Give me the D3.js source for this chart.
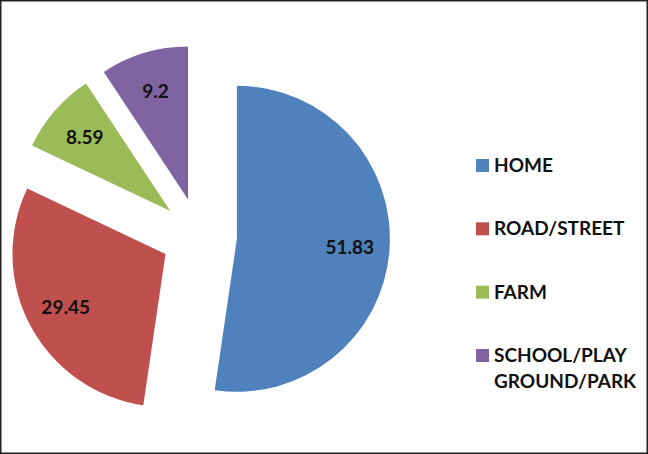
<!DOCTYPE html>
<html lang="en">
  <head>
    <meta charset="UTF-8" />
    <title>Place of injury</title>
    <script src="https://d3js.org/d3.v7.min.js"></script>
    <style>
      html, body {
        margin: 0;
        padding: 0;
        background: #fff;
      }
      body {
        font-family: Lato, "Open Sans", Arial, sans-serif;
      }
      .slice-label {
        font-size: 19px;
        font-weight: 700;
        fill: #111;
      }
      .legend text {
        font-size: 19px;
        font-weight: 700;
        fill: #111;
      }
    </style>
  </head>
  <body>
    <svg id="chart" width="648" height="454"></svg>

    <script>
      // data
      const categories = ["HOME", "ROAD/STREET", "FARM", "SCHOOL/PLAY GROUND/PARK"];
      const legendLines = [["HOME"], ["ROAD/STREET"], ["FARM"], ["SCHOOL/PLAY", "GROUND/PARK"]];
      const values = [51.83, 29.45, 8.59, 9.2];
      const colors = ["#4F81BD", "#C0504D", "#9BBB59", "#8064A2"];

      const width = 648;
      const height = 454;
      const svg = d3.select("#chart");

      // frame round the picture
      svg
        .append("rect")
        .attr("x", 0.75)
        .attr("y", 0.75)
        .attr("width", width - 1.5)
        .attr("height", height - 1.5)
        .attr("fill", "#fff")
        .attr("stroke", "#222")
        .attr("stroke-width", 1.5);

      const radius = 153;
      const explode = 38;
      const cx = 199;
      const cy = 236;

      const color = d3.scaleOrdinal().domain(categories).range(colors);

      const pie = d3
        .pie()
        .sort(null)
        .value((d) => d.value);

      const arc = d3.arc().innerRadius(0).outerRadius(radius);
      const labelArc = d3
        .arc()
        .innerRadius(radius * 0.74)
        .outerRadius(radius * 0.74);

      const data = categories.map((c, i) => ({ name: c, value: values[i] }));
      const arcs = pie(data);

      const g = svg.append("g").attr("transform", `translate(${cx},${cy})`);

      const slices = g
        .selectAll(".slice")
        .data(arcs)
        .enter()
        .append("g")
        .attr("class", "slice")
        .attr("transform", (d) => {
          const mid = (d.startAngle + d.endAngle) / 2;
          const dx = explode * Math.sin(mid);
          const dy = -explode * Math.cos(mid);
          return `translate(${dx},${dy})`;
        });

      slices
        .append("path")
        .attr("d", arc)
        .attr("fill", (d) => color(d.data.name));

      slices
        .append("text")
        .attr("class", "slice-label")
        .attr("transform", (d) => `translate(${labelArc.centroid(d)})`)
        .attr("text-anchor", "middle")
        .attr("dy", "0.35em")
        .text((d) => d.data.value);

      // legend
      const legend = svg
        .append("g")
        .attr("class", "legend")
        .attr("transform", "translate(476,0)");

      const rowY = d3.scalePoint().domain(categories).range([172, 362]);

      const rows = legend
        .selectAll(".row")
        .data(categories)
        .enter()
        .append("g")
        .attr("class", "row")
        .attr("transform", (d) => `translate(0,${rowY(d)})`);

      rows
        .append("rect")
        .attr("x", 0)
        .attr("y", -13)
        .attr("width", 13)
        .attr("height", 13)
        .attr("fill", (d) => color(d));

      rows
        .append("text")
        .attr("x", 18)
        .attr("y", 0)
        .selectAll("tspan")
        .data((d, i) => legendLines[i])
        .enter()
        .append("tspan")
        .attr("x", 18)
        .attr("dy", (d, i) => (i === 0 ? 0 : 26))
        .text((d) => d);
    </script>
  </body>
</html>
